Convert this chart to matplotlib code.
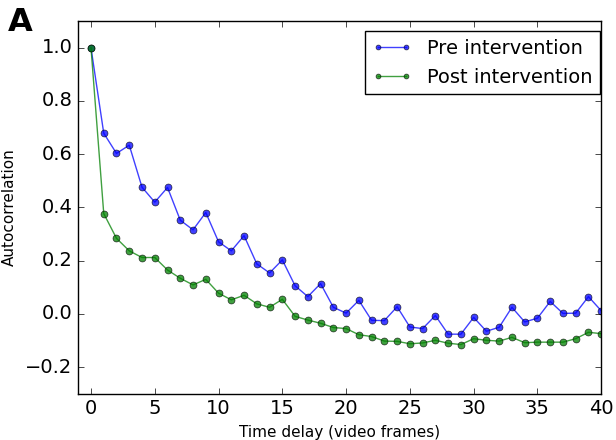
import numpy as np
import matplotlib
matplotlib.use('Agg')
import matplotlib.pyplot as plt

# Time delay (frames) and autocorrelation values
lags = list(range(41))
pre = [1.0, 0.679, 0.603, 0.634, 0.476, 0.420, 0.475, 0.352, 0.316, 0.381,
       0.271, 0.237, 0.294, 0.188, 0.154, 0.203, 0.106, 0.065, 0.114, 0.025,
       0.003, 0.051, -0.024, -0.025, 0.027, -0.049, -0.055, -0.006, -0.076, -0.076,
       -0.013, -0.065, -0.050, 0.025, -0.030, -0.016, 0.047, 0.002, 0.003, 0.065,
       0.012]
post = [1.0, 0.377, 0.284, 0.237, 0.212, 0.212, 0.165, 0.134, 0.109, 0.130,
        0.078, 0.053, 0.070, 0.038, 0.025, 0.055, -0.009, -0.023, -0.035, -0.051,
        -0.055, -0.078, -0.085, -0.102, -0.103, -0.112, -0.109, -0.099, -0.110, -0.115,
        -0.093, -0.099, -0.102, -0.088, -0.108, -0.106, -0.106, -0.106, -0.093, -0.069,
        -0.074]

plt.style.use('classic')
fig = plt.figure(figsize=(6.16, 4.4), dpi=100, facecolor='white')
ax = fig.add_axes([0.127, 0.105, 0.849, 0.847])

ax.plot(lags, pre, '-o', color='b', alpha=0.75, lw=1, markersize=5,
        markeredgewidth=0.5, label='Pre intervention')
ax.plot(lags, post, '-o', color='g', alpha=0.75, lw=1, markersize=5,
        markeredgewidth=0.5, label='Post intervention')

ax.set_xlim(-1, 40)
ax.set_ylim(-0.3, 1.1)
ax.set_xticks(np.arange(0, 41, 5))
ax.set_yticks(np.arange(-0.2, 1.01, 0.2))
ax.tick_params(labelsize=14)
ax.set_xlabel('Time delay (video frames)', fontsize=11)
ax.set_ylabel('Autocorrelation', fontsize=11, labelpad=6)

ax.legend(loc='upper right', bbox_to_anchor=(0.998, 0.973), borderaxespad=0,
          numpoints=2, fontsize=14, markerscale=0.7)

fig.text(0.012, 0.983, 'A', fontsize=23, fontweight='bold', va='top', ha='left')

fig.savefig('out.png', dpi=100, facecolor='white')
